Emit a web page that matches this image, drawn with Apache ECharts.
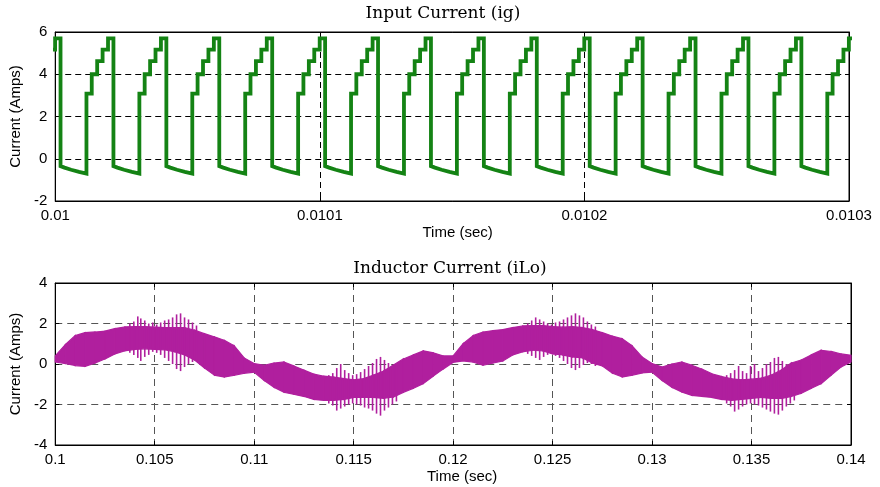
<!DOCTYPE html>
<html>
<head>
<meta charset="utf-8">
<script src="https://cdn.jsdelivr.net/npm/echarts@6/dist/echarts.min.js"></script>
<style>
  html, body { margin: 0; padding: 0; background: #fff; }
  #chart { width: 880px; height: 487px; }
</style>
</head>
<body>
<div id="chart"></div>
<script>
// ---- Input current (ig): stepped switching waveform, one cycle shape + cycle start times ----
const igCycleStarts = [0.009982, 0.010002, 0.010022, 0.010042, 0.010062, 0.010082,
                       0.010102, 0.010122, 0.010142, 0.010162, 0.010182, 0.010202,
                       0.010222, 0.010242, 0.010262, 0.010282];
// offsets inside one cycle (microseconds) and the current level at each corner (A)
const igCycleOffsetsUs = [0, 0, 1.5, 4.0, 7.0, 9.8, 9.8, 11.8, 11.8, 13.85, 13.85, 15.9, 15.9, 17.95, 17.95, 20];
const igCycleLevels    = [5.70, -0.35, -0.42, -0.52, -0.62, -0.70, 3.08, 3.08, 4.00, 4.00, 4.62, 4.62, 5.17, 5.17, 5.70, 5.70];

const igTicksX = [0.01, 0.0101, 0.0102, 0.0103];

// ---- Inductor current (iLo): ripple band envelope ----
const iloTime = [
  0.1000, 0.1005, 0.1010, 0.1015, 0.1020, 0.1025, 0.1030, 0.1035, 0.1040, 0.1045,
  0.1050, 0.1055, 0.1060, 0.1065, 0.1070, 0.1075, 0.1080, 0.1085, 0.1090, 0.1095,
  0.1100, 0.1105, 0.1110, 0.1115, 0.1120, 0.1125, 0.1130, 0.1135, 0.1140, 0.1145,
  0.1150, 0.1155, 0.1160, 0.1165, 0.1170, 0.1175, 0.1180, 0.1185, 0.1190, 0.1195,
  0.1200, 0.1205, 0.1210, 0.1215, 0.1220, 0.1225, 0.1230, 0.1235, 0.1240, 0.1245,
  0.1250, 0.1255, 0.1260, 0.1265, 0.1270, 0.1275, 0.1280, 0.1285, 0.1290, 0.1295,
  0.1300, 0.1305, 0.1310, 0.1315, 0.1320, 0.1325, 0.1330, 0.1335, 0.1340, 0.1345,
  0.1350, 0.1355, 0.1360, 0.1365, 0.1370, 0.1375, 0.1380, 0.1385, 0.1390, 0.1395,
  0.1400
];
const iloUpper = [
  0.40, 0.95, 1.40, 1.55, 1.58, 1.62, 1.75, 1.83, 1.85, 1.85,
  1.82, 1.80, 1.80, 1.80, 1.67, 1.50, 1.34, 1.17, 0.90, 0.30,
  0.02, -0.06, 0.05, 0.10, -0.10, -0.30, -0.50, -0.60, -0.65, -0.72,
  -0.78, -0.72, -0.55, -0.35, -0.05, 0.25, 0.45, 0.65, 0.55, 0.40,
  0.40, 1.00, 1.40, 1.58, 1.65, 1.70, 1.80, 1.88, 1.90, 1.90,
  1.85, 1.82, 1.85, 1.80, 1.70, 1.55, 1.38, 1.25, 0.90, 0.35,
  0.02, -0.15, 0.00, 0.10, -0.06, -0.25, -0.48, -0.62, -0.73, -0.78,
  -0.75, -0.70, -0.55, -0.30, 0.05, 0.20, 0.45, 0.68, 0.62, 0.50,
  0.43
];
const iloLower = [
  0.10, 0.02, -0.08, -0.12, 0.05, 0.25, 0.50, 0.65, 0.72, 0.75,
  0.72, 0.70, 0.60, 0.45, 0.20, -0.20, -0.55, -0.64, -0.56, -0.46,
  -0.40, -0.81, -1.15, -1.40, -1.50, -1.60, -1.75, -1.80, -1.80, -1.75,
  -1.65, -1.65, -1.65, -1.70, -1.63, -1.40, -1.20, -0.97, -0.60, -0.25,
  0.08, 0.15, 0.10, -0.06, 0.05, 0.15, 0.45, 0.60, 0.68, 0.65,
  0.50, 0.45, 0.35, 0.30, 0.05, -0.10, -0.45, -0.64, -0.56, -0.44,
  -0.40, -0.81, -1.15, -1.39, -1.55, -1.60, -1.65, -1.75, -1.80, -1.75,
  -1.70, -1.65, -1.70, -1.70, -1.60, -1.45, -1.20, -0.97, -0.55, -0.15,
  0.10
];
// beat spikes that stand out of the ripple band: [time, min, max]
const iloSpikes = [
  [0.10375, 0.55, 2.00], [0.10395, 0.45, 2.10], [0.10415, 0.30, 2.35], [0.10430, 0.15, 2.25],
  [0.10450, 0.35, 2.15], [0.10470, 0.45, 2.00], [0.10490, 0.60, 2.05], [0.10510, 0.55, 1.95],
  [0.10530, 0.45, 2.05], [0.10550, 0.30, 2.15], [0.10570, 0.15, 2.20], [0.10590, 0.00, 2.30],
  [0.10610, -0.25, 2.45], [0.10630, -0.35, 2.50], [0.10650, -0.15, 2.30], [0.10670, 0.00, 2.20],
  [0.10690, 0.10, 2.05], [0.10710, 0.15, 1.90],

  [0.11375, -1.95, -0.55], [0.11395, -2.05, -0.45], [0.11415, -2.30, -0.20], [0.11435, -2.20, 0.00],
  [0.11455, -2.10, -0.30], [0.11475, -2.00, -0.45], [0.11495, -1.95, -0.55], [0.11515, -2.00, -0.50],
  [0.11535, -2.05, -0.40], [0.11555, -2.15, -0.25], [0.11575, -2.20, -0.10], [0.11595, -2.30, 0.05],
  [0.11615, -2.45, 0.25], [0.11635, -2.55, 0.35], [0.11655, -2.30, 0.20], [0.11675, -2.15, 0.05],
  [0.11695, -2.00, -0.05], [0.11715, -1.85, 0.00],

  [0.12375, 0.50, 2.00], [0.12395, 0.40, 2.15], [0.12415, 0.30, 2.30], [0.12435, 0.20, 2.20],
  [0.12455, 0.35, 2.10], [0.12475, 0.45, 2.00], [0.12495, 0.50, 1.95], [0.12515, 0.40, 2.05],
  [0.12535, 0.30, 2.10], [0.12555, 0.15, 2.20], [0.12575, 0.00, 2.30], [0.12595, -0.20, 2.40],
  [0.12615, -0.30, 2.50], [0.12635, -0.20, 2.40], [0.12655, -0.05, 2.30], [0.12675, 0.05, 2.10],
  [0.12695, 0.00, 1.95], [0.12715, -0.10, 1.85],

  [0.13375, -1.95, -0.55], [0.13395, -2.10, -0.45], [0.13415, -2.35, -0.30], [0.13435, -2.25, -0.10],
  [0.13455, -2.10, -0.35], [0.13475, -2.00, -0.45], [0.13495, -1.95, -0.10], [0.13515, -2.00, 0.00],
  [0.13535, -2.05, -0.35], [0.13555, -2.15, -0.20], [0.13575, -2.25, 0.00], [0.13595, -2.35, 0.10],
  [0.13615, -2.45, 0.30], [0.13635, -2.50, 0.35], [0.13655, -2.30, 0.15], [0.13675, -2.10, 0.00],
  [0.13695, -1.95, -0.10], [0.13715, -1.80, -0.20]
];

const igColor = '#148314';
const iloColor = '#b01f9e';
const sans = 'Liberation Sans, Arial, Helvetica, sans-serif';
const serif = 'DejaVu Serif, Liberation Serif, serif';

// build the ig polyline from the cycle shape
const igData = [];
igCycleStarts.forEach(s => {
  igCycleOffsetsUs.forEach((off, k) => igData.push([s + off * 1e-6, igCycleLevels[k]]));
});

// ripple band rows: [time, lower, upper]
const bandRows = iloTime.map((t, i) => [t, iloLower[i], iloUpper[i]]);

function fmt(digits) { return v => String(parseFloat(v.toFixed(digits))); }

function xAxes(gridIndex, min, max, interval, digits, gridColor, dash, namePad) {
  return [{
    type: 'value', gridIndex, min, max, interval,
    name: 'Time (sec)', nameLocation: 'middle', nameGap: 24,
    nameTextStyle: { fontFamily: sans, fontSize: 15, color: '#000', padding: namePad },
    axisLine: { show: true, onZero: false, lineStyle: { color: '#000', width: 1 } },
    axisTick: { show: true, inside: true, length: 4, lineStyle: { color: '#000' } },
    axisLabel: { formatter: fmt(digits), fontFamily: sans, fontSize: 15, color: '#000', margin: 7 },
    splitLine: { show: true, lineStyle: { color: gridColor, type: dash, width: 1 } }
  }, {
    type: 'value', gridIndex, min, max, interval, position: 'top',
    axisLine: { show: true, onZero: false, lineStyle: { color: '#000' } },
    axisTick: { show: true, inside: true, length: 4, lineStyle: { color: '#000' } },
    axisLabel: { show: false }, splitLine: { show: false }
  }];
}
function yAxes(gridIndex, min, max, nameGap, gridColor, dash) {
  return [{
    type: 'value', gridIndex, min, max, interval: 2,
    name: 'Current (Amps)', nameLocation: 'middle', nameGap,
    nameTextStyle: { fontFamily: sans, fontSize: 15, color: '#000' },
    axisLine: { show: true, onZero: false, lineStyle: { color: '#000', width: 1 } },
    axisTick: { show: true, inside: true, length: 4, lineStyle: { color: '#000' } },
    axisLabel: { fontFamily: sans, fontSize: 15, color: '#000', margin: 8 },
    splitLine: { show: true, lineStyle: { color: gridColor, type: dash, width: 1 } }
  }, {
    type: 'value', gridIndex, min, max, interval: 2, position: 'right',
    axisLine: { show: true, onZero: false, lineStyle: { color: '#000' } },
    axisTick: { show: true, inside: true, length: 4, lineStyle: { color: '#000' } },
    axisLabel: { show: false }, splitLine: { show: false }
  }];
}

const chart = echarts.init(document.getElementById('chart'), null, { renderer: 'canvas' });
chart.setOption({
  animation: false,
  backgroundColor: '#fff',
  graphic: [
    { type: 'text', x: 443, y: 14, style: { text: 'Input Current (ig)', font: '17px ' + serif, fill: '#000', align: 'center', verticalAlign: 'middle' } },
    { type: 'text', x: 450, y: 269, style: { text: 'Inductor Current (iLo)', font: '17px ' + serif, fill: '#000', align: 'center', verticalAlign: 'middle' } }
  ],
  grid: [
    { left: 46, top: 32, right: 31, height: 169, show: true, borderColor: '#000', borderWidth: 1, backgroundColor: '#fff' },
    { left: 49, top: 283, right: 29, height: 162, show: true, borderColor: '#000', borderWidth: 1, backgroundColor: '#fff' }
  ],
  xAxis: [
    ...xAxes(0, igTicksX[0], igTicksX[igTicksX.length - 1], 0.0001, 6, '#000', [6, 4], [0, 0, 0, 11]),
    ...xAxes(1, 0.1, 0.14, 0.005, 4, '#555', [7, 5], [0, 0, 0, 18])
  ],
  yAxis: [
    ...yAxes(0, -2, 6, 24, '#000', [6, 4]),
    ...yAxes(1, -4, 4, 26, '#555', [7, 5])
  ],
  series: [
    {
      name: 'ig', type: 'line', xAxisIndex: 0, yAxisIndex: 0,
      data: igData, showSymbol: false, symbol: 'none',
      lineStyle: { color: igColor, width: 3.8, join: 'miter' }, clip: true
    },
    {
      // filled ripple band between lower and upper envelope, one quad per interval
      name: 'iLo band', type: 'custom', xAxisIndex: 2, yAxisIndex: 2,
      data: bandRows, encode: { x: 0, y: [1, 2] },
      renderItem: (params, api) => {
        const i = params.dataIndex;
        if (i >= bandRows.length - 1) return null;
        const a = bandRows[i], b = bandRows[i + 1];
        const pts = [api.coord([a[0], a[2]]), api.coord([b[0], b[2]]),
                     api.coord([b[0], b[1]]), api.coord([a[0], a[1]])];
        return { type: 'polygon', shape: { points: pts },
                 style: { fill: iloColor, stroke: iloColor, lineWidth: 1.2 } };
      }
    },
    {
      name: 'iLo spikes', type: 'custom', xAxisIndex: 2, yAxisIndex: 2,
      data: iloSpikes, encode: { x: 0, y: [1, 2] },
      renderItem: (params, api) => {
        const p1 = api.coord([api.value(0), api.value(1)]);
        const p2 = api.coord([api.value(0), api.value(2)]);
        return { type: 'line', shape: { x1: p1[0], y1: p1[1], x2: p2[0], y2: p2[1] },
                 style: { stroke: iloColor, lineWidth: 1.6 } };
      }
    }
  ]
});
</script>
</body>
</html>
